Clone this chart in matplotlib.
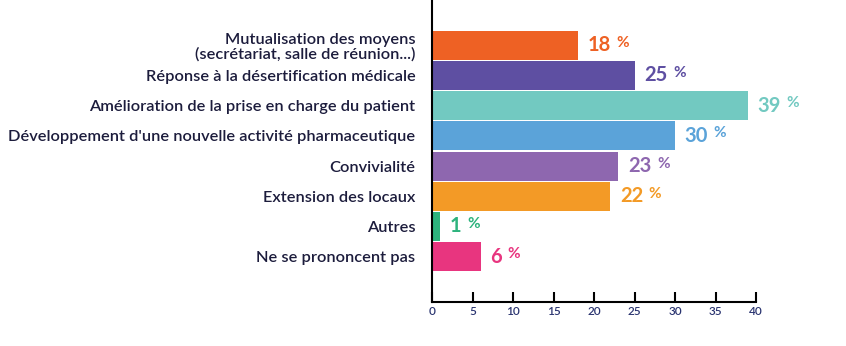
import matplotlib.pyplot as plt

# data
labels = ["Mutualisation des moyens\n(secrétariat, salle de réunion...)",
          "Réponse à la désertification médicale",
          "Amélioration de la prise en charge du patient",
          "Développement d'une nouvelle activité pharmaceutique",
          "Convivialité",
          "Extension des locaux",
          "Autres",
          "Ne se prononcent pas"]
values = [18, 25, 39, 30, 23, 22, 1, 6]
colors = ["#EE6124", "#5E4FA2", "#72C9C1", "#5BA3D9",
          "#8E67AF", "#F39A26", "#2DB37D", "#E8357F"]
xticks = [0, 5, 10, 15, 20, 25, 30, 35, 40]

plt.rcParams['font.family'] = ['Lato', 'DejaVu Sans']
text_col = "#1c1c3c"

fig = plt.figure(figsize=(8.46, 3.46), dpi=100)
ax = fig.add_axes([432/846, 44/346, 324/846, 302/346])

pos = list(range(len(values)))
ax.barh(pos, values, height=0.96, color=colors)
ax.set_ylim(8.5, -1.5)
ax.set_xlim(0, 40)

for y, v, c in zip(pos, values, colors):
    t = ax.annotate(str(v), xy=(v, y), xytext=(7, 0), textcoords='offset points',
                    ha='left', va='center', color=c, fontsize=14.5, fontweight='bold')
    ax.annotate('%', xy=(1, 0.62), xycoords=t, xytext=(4, 0),
                textcoords='offset points', ha='left', va='center',
                color=c, fontsize=11, fontweight='bold')

ax.set_yticks(pos)
ax.set_yticklabels(labels, fontsize=11.8, color=text_col, ha='right',
                   fontweight='semibold', linespacing=1.05)
ax.tick_params(axis='y', length=0, pad=12)
ax.set_xticks(xticks)
ax.tick_params(axis='x', direction='in', length=7, width=1.5,
               labelsize=8.5, labelcolor="#2a3470", pad=3)
for lbl in ax.get_xticklabels():
    lbl.set_fontweight('semibold')

for s in ['top', 'right']:
    ax.spines[s].set_visible(False)
for s in ['left', 'bottom']:
    ax.spines[s].set_linewidth(1.5)
    ax.spines[s].set_color('black')

fig.savefig("out.png", dpi=100)
